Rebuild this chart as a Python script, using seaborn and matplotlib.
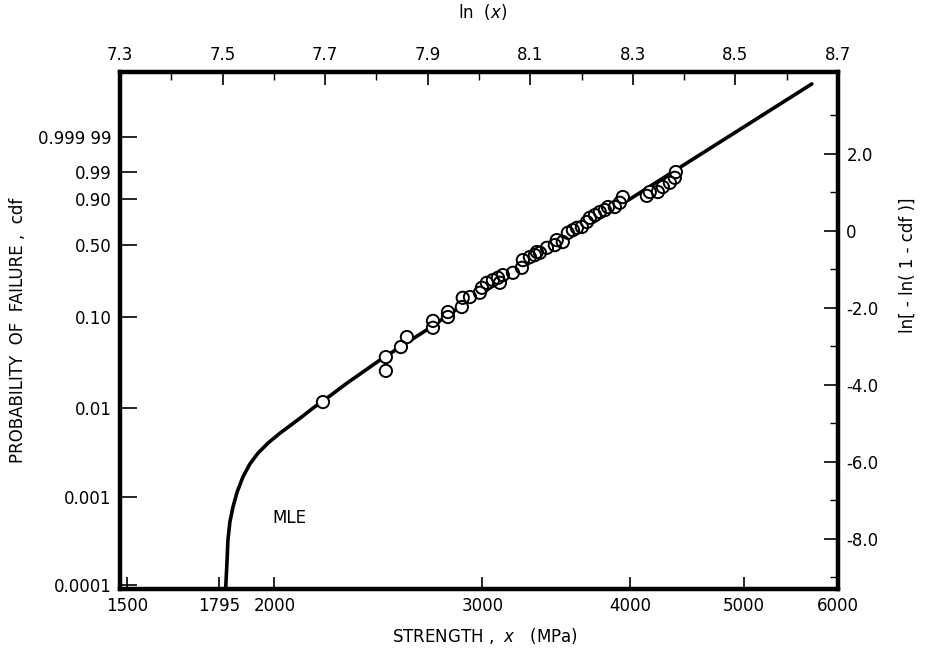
import numpy as np
import pandas as pd
import matplotlib
matplotlib.use("Agg")
import matplotlib.pyplot as plt
import seaborn as sns
from matplotlib.ticker import FixedLocator, FixedFormatter, NullFormatter

# ---- data (strength in MPa, y in ln[-ln(1-cdf)]) ----
strength = [2199, 2486, 2486, 2560, 2590, 2725, 2725, 2806, 2806, 2883,
            2888, 2929, 2986, 2998, 3027, 3063, 3093, 3105, 3123, 3185,
            3241, 3247, 3292, 3324, 3337, 3357, 3403, 3456, 3469, 3510,
            3545, 3580, 3608, 3643, 3679, 3700, 3737, 3773, 3810, 3833,
            3885, 3923, 3946, 4135, 4159, 4225, 4266, 4325, 4367, 4376]
lnln_obs = [-4.45, -3.64, -3.28, -3.02, -2.76, -2.52, -2.34, -2.24, -2.11, -1.98,
            -1.74, -1.72, -1.61, -1.48, -1.35, -1.28, -1.22, -1.35, -1.15, -1.09,
            -0.96, -0.76, -0.68, -0.63, -0.55, -0.57, -0.44, -0.37, -0.24, -0.29,
            -0.05, 0.02, 0.08, 0.10, 0.23, 0.34, 0.41, 0.49, 0.54, 0.62,
            0.62, 0.73, 0.88, 0.91, 1.01, 1.01, 1.14, 1.25, 1.38, 1.53]

mle_strength = [1817, 1824, 1827, 1834, 1845, 1860, 1881, 1907, 1937, 1975,
                2022, 2103, 2156, 2229, 2304, 2457, 2709, 2872, 4079, 5704]
mle_lnln = [-9.60, -8.56, -8.04, -7.57, -7.18, -6.79, -6.40, -6.06, -5.78, -5.52,
            -5.26, -4.87, -4.61, -4.29, -3.96, -3.36, -2.52, -1.98, 0.99, 3.82]

cdf_ticks = [0.0001, 0.001, 0.01, 0.10, 0.50, 0.90, 0.99, 0.99999]
cdf_labels = ["0.0001", "0.001", "0.01", "0.10", "0.50", "0.90", "0.99", "0.999 99"]
strength_ticks = [1500, 1795, 2000, 3000, 4000, 5000, 6000]
strength_labels = ["1500", "1795", "2000", "3000", "4000", "5000", "6000"]
lnx_ticks = [7.3, 7.5, 7.7, 7.9, 8.1, 8.3, 8.5, 8.7]
lnx_labels = ["7.3", "7.5", "7.7", "7.9", "8.1", "8.3", "8.5", "8.7"]
lnx_minor = [7.4, 7.6, 7.8, 8.0, 8.2, 8.4, 8.6]
lnln_ticks = [2.0, 0.0, -2.0, -4.0, -6.0, -8.0]
lnln_labels = ["2.0", "0", "-2.0", "-4.0", "-6.0", "-8.0"]
lnln_minor = [3.0, 1.0, -1.0, -3.0, -5.0, -7.0, -9.0]

sns.set_style("white")
plt.rcParams["font.family"] = ["DejaVu Sans"]
plt.rcParams["mathtext.fontset"] = "dejavusans"
plt.rcParams["text.color"] = "black"
plt.rcParams["axes.labelcolor"] = "black"
plt.rcParams["xtick.color"] = "black"
plt.rcParams["ytick.color"] = "black"

fig = plt.figure(figsize=(9.28, 6.51), dpi=100)
ax = fig.add_axes([120 / 928, 1 - 589 / 651, 718 / 928, 517 / 651])

obs = pd.DataFrame({"strength": strength, "lnln": lnln_obs})
mle = pd.DataFrame({"strength": mle_strength, "lnln": mle_lnln})

sns.lineplot(data=mle, x="strength", y="lnln", sort=False, estimator=None,
             color="black", linewidth=2.6, ax=ax, zorder=2)
# white interiors hide the line, rings drawn on top so overlaps stay visible
sns.scatterplot(data=obs, x="strength", y="lnln", marker="o", s=78,
                facecolor="white", edgecolor="none", ax=ax, zorder=3)
sns.scatterplot(data=obs, x="strength", y="lnln", marker="o", s=78,
                facecolor="none", edgecolor="black", linewidth=1.4, ax=ax, zorder=4)

ax.set_xscale("log")
ax.set_xlim(np.exp(7.3), np.exp(8.7))
ax.set_ylim(-9.31, 4.13)
ax.set_xlabel("")
ax.set_ylabel("")

# bottom axis
ax.xaxis.set_major_locator(FixedLocator(strength_ticks))
ax.xaxis.set_major_formatter(FixedFormatter(strength_labels))
ax.xaxis.set_minor_locator(FixedLocator([]))
ax.xaxis.set_minor_formatter(NullFormatter())

# left axis (cdf on Weibull scale)
cdf_pos = [float(np.log(-np.log1p(-p))) for p in cdf_ticks]
ax.yaxis.set_major_locator(FixedLocator(cdf_pos))
ax.yaxis.set_major_formatter(FixedFormatter(cdf_labels))

ax.tick_params(axis="both", which="major", direction="in", length=9, width=1.2,
               labelsize=12, colors="black", pad=6)
ax.tick_params(axis="y", length=12)

# right axis
ax2 = ax.twinx()
ax2.set_ylim(ax.get_ylim())
ax2.yaxis.set_major_locator(FixedLocator(lnln_ticks))
ax2.yaxis.set_major_formatter(FixedFormatter(lnln_labels))
ax2.yaxis.set_minor_locator(FixedLocator(lnln_minor))
ax2.tick_params(axis="y", which="major", direction="in", length=10, width=1.2,
                labelsize=12, pad=6, colors="black")
ax2.tick_params(axis="y", which="minor", direction="in", length=6, width=1.0)

# top axis (ln x)
ax3 = ax.twiny()
ax3.set_xlim(7.3, 8.7)
ax3.xaxis.set_major_locator(FixedLocator(lnx_ticks))
ax3.xaxis.set_major_formatter(FixedFormatter(lnx_labels))
ax3.xaxis.set_minor_locator(FixedLocator(lnx_minor))
ax3.tick_params(axis="x", which="major", direction="in", length=9, width=1.2,
                labelsize=12, pad=6, colors="black")
ax3.tick_params(axis="x", which="minor", direction="in", length=6, width=1.0)

for a in (ax, ax2, ax3):
    for sp in a.spines.values():
        sp.set_linewidth(3.0)
        sp.set_color("black")

ax.text(2061, -7.47, "MLE", ha="center", va="center", fontsize=12, color="black")

fig.text(18 / 928, 1 - 330 / 651, "PROBABILITY  OF  FAILURE ,  cdf", rotation=90,
         ha="center", va="center", fontsize=12)
fig.text(485 / 928, 1 - 636 / 651, "STRENGTH ,  $x$   (MPa)", ha="center",
         va="center", fontsize=12)
fig.text(483 / 928, 1 - 12 / 651, "ln  ($x$)", ha="center", va="center", fontsize=12)
fig.text(908 / 928, 1 - 265 / 651, "ln[ - ln( 1 - cdf )]", rotation=90,
         ha="center", va="center", fontsize=12)

fig.savefig("out.png", dpi=100, facecolor="white")
